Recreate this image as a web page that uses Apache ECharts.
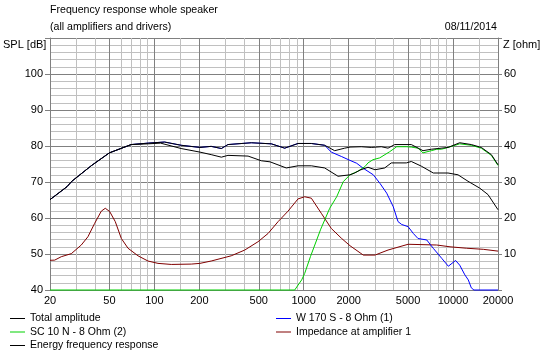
<!DOCTYPE html>
<html>
<head>
<meta charset="utf-8">
<script src="https://cdn.jsdelivr.net/npm/echarts@6/dist/echarts.min.js"></script>
<style>
  html, body { margin: 0; padding: 0; background: #ffffff; }
  #chart { width: 547px; height: 352px; }
</style>
</head>
<body>
<div id="chart"></div>
<script>
// tick values (Hz)
var majorFreqs = [20, 50, 100, 200, 500, 1000, 2000, 5000, 10000, 20000];
var minorFreqs = [30, 40, 60, 70, 80, 90, 150, 300, 400, 600, 700, 800, 900, 1500,
  3000, 4000, 6000, 7000, 8000, 9000, 15000];

// Total amplitude (dB)
var totalFreq = [20, 26, 28, 38, 50, 70, 91, 117, 120, 151, 202, 240, 281, 311, 446, 607, 746, 916, 1125, 1382, 1612, 1881, 2042, 2430, 2836, 3309, 3669, 4067, 5254, 6295, 7152, 9258, 11083, 13250, 15460, 18050, 20000];
var totalSpl = [65.1, 68.7, 70.2, 74.6, 78.1, 80.4, 80.8, 81.1, 81.3, 80.2, 79.6, 79.9, 79.3, 80.4, 80.9, 80.6, 79.4, 80.7, 80.7, 80.2, 78.7, 79.4, 79.7, 79.8, 79.6, 79.8, 79.4, 80.4, 80.4, 78.7, 79.1, 79.6, 80.9, 80.4, 79.6, 77.6, 74.8];

// Energy frequency response (dB)
var energyFreq = [20, 26, 28, 38, 50, 70, 91, 110, 151, 202, 240, 281, 311, 424, 520, 595, 764, 916, 1125, 1382, 1697, 1750, 2042, 2195, 2382, 2695, 3003, 3486, 3860, 4864, 5254, 6132, 7376, 9258, 10796, 12594, 15084, 17150, 20000];
var energySpl = [65.1, 68.7, 70.2, 74.6, 78.1, 80.4, 80.6, 80.8, 79.3, 78.3, 77.6, 76.9, 77.4, 77.2, 75.9, 75.6, 73.9, 74.5, 74.5, 73.9, 71.6, 71.3, 72.0, 72.5, 73.3, 74.1, 73.4, 73.9, 75.3, 75.3, 75.7, 74.4, 72.5, 72.5, 72.0, 70.2, 68.3, 66.5, 62.3];

// W 170 S - 8 Ohm (1) (dB), runs under the total curve below 1.4 kHz
var wooferFreq = [20, 26, 28, 38, 50, 70, 91, 117, 120, 151, 202, 240, 281, 311, 446, 607, 746, 916, 1125, 1382, 1530, 1786, 2042, 2264, 2506, 2925, 3243, 3596, 3981, 4280, 4530, 5000, 5420, 5826, 6665, 7400, 8397, 9300, 10400, 11083, 12000, 12652, 13250, 13800, 20000];
var wooferSpl = [65.1, 68.7, 70.2, 74.6, 78.1, 80.4, 80.8, 81.1, 81.3, 80.2, 79.6, 79.9, 79.3, 80.4, 80.9, 80.6, 79.4, 80.7, 80.7, 80.2, 78.3, 77.1, 76.0, 75.2, 73.8, 72.0, 69.6, 66.9, 63.1, 59.0, 58.2, 57.6, 55.7, 54.3, 53.9, 51.5, 48.8, 46.6, 48.2, 46.9, 44.2, 42.8, 40.6, 40, 40];

// SC 10 N - 8 Ohm (2) (dB)
var tweeterFreq = [20, 870, 969, 1015, 1110, 1300, 1493, 1663, 1841, 2042, 2309, 2573, 2695, 2911, 3228, 3760, 4195, 4894, 5254, 5826, 6295, 7152, 7773, 8347, 9258, 9542, 11083, 13250, 15460, 18050, 20000];
var tweeterSpl = [40, 40, 42.8, 44.6, 49.3, 56.9, 62.7, 65.9, 70.1, 72.0, 73.0, 74.3, 75.3, 76.2, 76.7, 78.4, 79.8, 79.8, 79.7, 79.4, 78.1, 78.7, 79.1, 79.1, 79.6, 79.8, 80.6, 80.2, 79.4, 77.4, 74.6];

// Impedance at amplifier 1 (ohm)
var impFreq = [20, 21.5, 23.8, 27.8, 32.4, 35.9, 39.8, 44.1, 46.9, 50.2, 54.7, 60.1, 66.6, 77.7, 90.6, 105.7, 129.8, 176.7, 202, 240, 327, 403, 494, 577, 674, 785, 916, 1015, 1125, 1312, 1530, 1786, 2042, 2506, 3000, 3669, 5000, 7773, 9542, 12343, 15940, 20000];
var impOhm = [8.25, 8.3, 9.25, 10.1, 12.5, 14.8, 18.5, 21.9, 22.7, 21.8, 19.0, 14.3, 11.6, 9.5, 8.05, 7.4, 7.1, 7.2, 7.4, 8.05, 9.5, 11.1, 13.4, 15.7, 19.0, 21.9, 25.3, 25.9, 25.5, 21.3, 17.1, 14.4, 12.3, 9.7, 9.7, 11.1, 12.7, 12.5, 12.0, 11.6, 11.3, 10.8];

function pairs(xs, ys) {
  return xs.map(function (x, i) { return [x, ys[i]]; });
}

var FONT = 'Liberation Sans';
var chart = echarts.init(document.getElementById('chart'));

function lineSeries(name, color, xs, ys, yIndex) {
  return {
    name: name,
    type: 'line',
    xAxisIndex: 1,
    yAxisIndex: yIndex,
    data: pairs(xs, ys),
    showSymbol: false,
    symbol: 'none',
    clip: false,
    lineStyle: { color: color, width: 1 },
    itemStyle: { color: color },
    emphasis: { disabled: true }
  };
}

var legendText = { fontFamily: FONT, fontSize: 10.5, color: '#000', lineHeight: 13 };

var option = {
  animation: false,
  backgroundColor: '#ffffff',
  textStyle: { fontFamily: FONT, fontSize: 11, color: '#000' },
  grid: { left: 50, right: 49, top: 38, bottom: 62 },
  legend: [{
    left: 10, top: 312, orient: 'vertical', padding: 0, itemGap: 0.5,
    itemWidth: 15, itemHeight: 1, icon: 'rect', selectedMode: false,
    textStyle: legendText,
    data: ['Total amplitude', 'SC 10 N - 8 Ohm (2)', 'Energy frequency response']
  }, {
    left: 276, top: 312, orient: 'vertical', padding: 0, itemGap: 0.5,
    itemWidth: 15, itemHeight: 1, icon: 'rect', selectedMode: false,
    textStyle: legendText,
    data: ['W 170 S - 8 Ohm (1)', 'Impedance at amplifier 1']
  }],
  graphic: [
    { type: 'text', left: 50, top: 5, style: { text: 'Frequency response whole speaker', font: '10.6px ' + FONT, fill: '#000' } },
    { type: 'text', left: 50, top: 22, style: { text: '(all amplifiers and drivers)', font: '10.6px ' + FONT, fill: '#000' } },
    { type: 'text', right: 50, top: 22, style: { text: '08/11/2014', font: '10.6px ' + FONT, fill: '#000' } },
    { type: 'text', left: 3, top: 39, style: { text: 'SPL [dB]', font: '11px ' + FONT, fill: '#000' } },
    { type: 'text', left: 503, top: 39, style: { text: 'Z [ohm]', font: '11px ' + FONT, fill: '#000' } }
  ],
  xAxis: [{
    type: 'log', logBase: 10, min: 20, max: 20000, position: 'bottom',
    axisLine: { show: false },
    axisTick: { show: false, customValues: minorFreqs },
    axisLabel: { show: false },
    splitLine: { show: true, lineStyle: { color: '#c0c0c0', width: 1 } }
  }, {
    type: 'log', logBase: 10, min: 20, max: 20000, position: 'bottom',
    axisLine: { show: true, lineStyle: { color: '#808080' } },
    axisTick: { show: false, customValues: majorFreqs },
    axisLabel: {
      customValues: majorFreqs, margin: 5, color: '#000', fontFamily: FONT, fontSize: 11,
      formatter: function (v) { return String(Math.round(v)); }
    },
    splitLine: { show: true, lineStyle: { color: '#808080', width: 1 } }
  }],
  yAxis: [{
    type: 'value', min: 40, max: 110, interval: 10,
    axisLine: { show: true, lineStyle: { color: '#808080' } },
    axisTick: { show: true, length: 5, lineStyle: { color: '#808080' } },
    axisLabel: {
      margin: 7, color: '#000', fontFamily: FONT, fontSize: 11,
      formatter: function (v) { return v > 100 ? '' : String(v); }
    },
    minorTick: { show: false, splitNumber: 5 },
    minorSplitLine: { show: true, lineStyle: { color: '#c0c0c0', width: 1 } },
    splitLine: { show: true, lineStyle: { color: '#808080', width: 1 } }
  }, {
    type: 'value', min: 0, max: 70, interval: 10, position: 'right',
    axisLine: { show: true, lineStyle: { color: '#808080' } },
    axisTick: { show: true, length: 4, lineStyle: { color: '#808080' } },
    axisLabel: {
      margin: 6, color: '#000', fontFamily: FONT, fontSize: 11,
      formatter: function (v) { return (v === 0 || v === 70) ? '' : String(v); }
    },
    splitLine: { show: false }
  }],
  series: [
    lineSeries('Impedance at amplifier 1', '#800000', impFreq, impOhm, 1),
    lineSeries('W 170 S - 8 Ohm (1)', '#0000ff', wooferFreq, wooferSpl, 0),
    lineSeries('SC 10 N - 8 Ohm (2)', '#00d000', tweeterFreq, tweeterSpl, 0),
    lineSeries('Energy frequency response', '#000000', energyFreq, energySpl, 0),
    lineSeries('Total amplitude', '#000000', totalFreq, totalSpl, 0)
  ]
};

chart.setOption(option);
window.addEventListener('resize', function () { chart.resize(); });
</script>
</body>
</html>
